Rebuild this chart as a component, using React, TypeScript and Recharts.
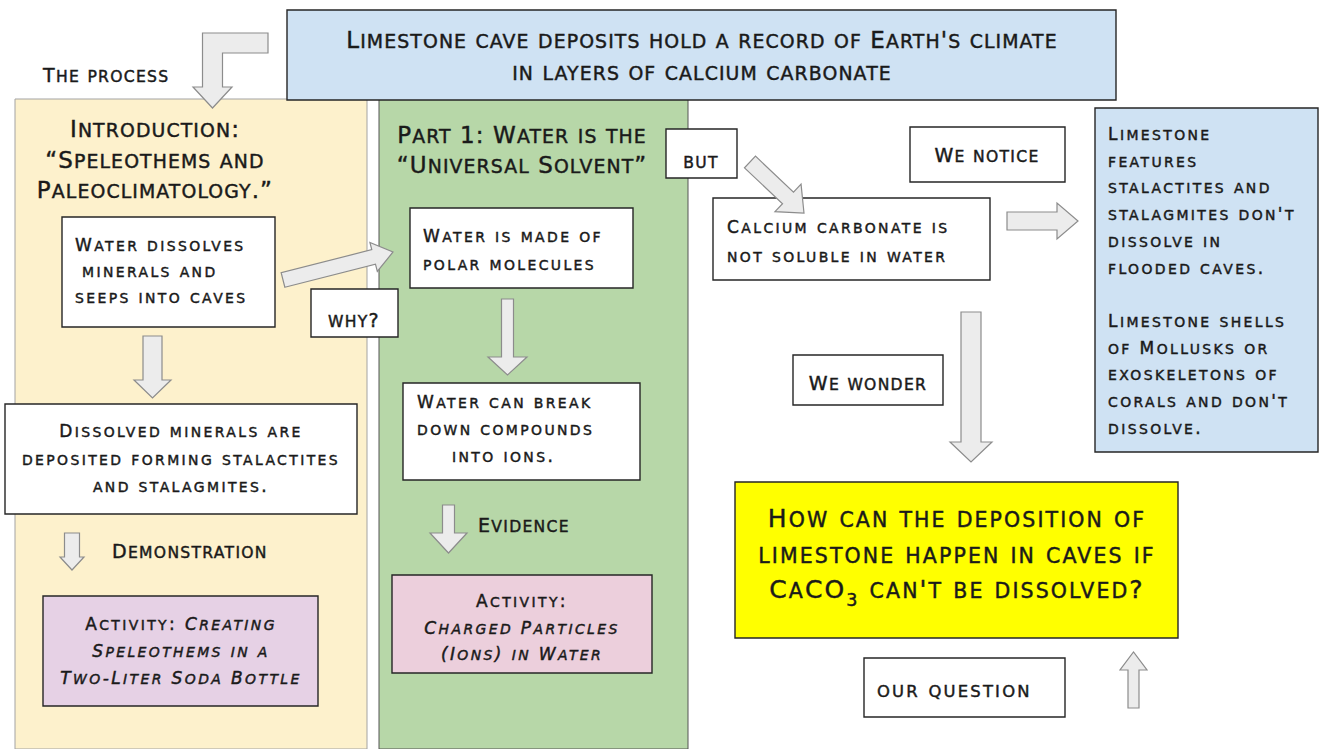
import React from "react";
import { ScatterChart, Scatter, XAxis, YAxis, ReferenceArea } from "recharts";

const CHART_W = 1319;
const CHART_H = 749;
const FONT = "'DejaVu Sans', Verdana, sans-serif";
const SMALL_CAPS = 0.82;

// diagram space = chart data space: x 0..1319 (left to right), y 0..749 (top to bottom)

// ---- texts ----
const headerText = ["Limestone cave deposits hold a record of Earth's climate", "in layers of calcium carbonate"];
const processText = ["The process"];
const introTitle = ["Introduction:", "“Speleothems and", "Paleoclimatology.”"];
const waterText = ["Water dissolves", "minerals and", "seeps into caves"];
const dissolvedText = ["Dissolved minerals are", "deposited forming stalactites", "and stalagmites."];
const demoText = ["Demonstration"];
const activity1Text = ["Activity: *Creating*", "*Speleothems in a*", "*Two-Liter Soda Bottle*"];
const whyText = ["why?"];
const part1Title = ["Part 1: Water is the", "“Universal Solvent”"];
const butText = ["but"];
const polarText = ["Water is made of", "polar molecules"];
const ionsText = ["Water can break", "down compounds", "into ions."];
const evidenceText = ["Evidence"];
const activity2Text = ["Activity:", "*Charged Particles*", "*(Ions) in Water*"];
const noticeText = ["We notice"];
const calciumText = ["Calcium carbonate is", "not soluble in water"];
const featuresText = [
  "Limestone", "features", "stalactites and", "stalagmites don't", "dissolve in", "flooded caves.", "",
  "Limestone shells", "of Mollusks or", "exoskeletons of", "corals and don't", "dissolve.",
];
const wonderText = ["We wonder"];
const questionText = ["How can the deposition of", "limestone happen in caves if", "CaCO_3 can't be dissolved?"];
const ourQuestionText = ["our question"];

// ---- boxes ----
type Box = { x1: number; x2: number; y1: number; y2: number; kind: string };

const panels: Box[] = [
  { x1: 15, x2: 367, y1: 99, y2: 749, kind: "beige" },
  { x1: 379, x2: 688, y1: 99, y2: 749, kind: "green" },
];

const boxes: Box[] = [
  { x1: 287, x2: 1116, y1: 10, y2: 100, kind: "blue" },
  { x1: 62, x2: 275, y1: 217, y2: 327, kind: "white" },
  { x1: 5, x2: 357, y1: 404, y2: 514, kind: "white" },
  { x1: 43, x2: 318, y1: 596, y2: 706, kind: "lavender" },
  { x1: 311, x2: 398, y1: 289, y2: 337, kind: "white" },
  { x1: 410, x2: 633, y1: 208, y2: 288, kind: "white" },
  { x1: 403, x2: 640, y1: 383, y2: 480, kind: "white" },
  { x1: 392, x2: 652, y1: 575, y2: 673, kind: "pink" },
  { x1: 666, x2: 737, y1: 129, y2: 178, kind: "white" },
  { x1: 910, x2: 1065, y1: 127, y2: 182, kind: "white" },
  { x1: 713, x2: 990, y1: 198, y2: 280, kind: "white" },
  { x1: 1095, x2: 1318, y1: 108, y2: 452, kind: "blue" },
  { x1: 793, x2: 943, y1: 355, y2: 405, kind: "white" },
  { x1: 735, x2: 1178, y1: 482, y2: 638, kind: "yellow" },
  { x1: 864, x2: 1065, y1: 658, y2: 717, kind: "white" },
];

// ---- arrows ----
type Arrow = {
  x1: number; x2: number; y1: number; y2: number;
  dir: "down" | "up" | "right" | "ur" | "dr" | "elbow";
  bar: number; head: number; headLen: number;
};

const arrows: Arrow[] = [
  { x1: 193, x2: 268, y1: 33, y2: 108, dir: "elbow", bar: 20, head: 39, headLen: 21 },
  { x1: 134, x2: 171, y1: 336, y2: 398, dir: "down", bar: 19, head: 37, headLen: 18 },
  { x1: 60, x2: 84, y1: 533, y2: 570, dir: "down", bar: 15, head: 24, headLen: 13 },
  { x1: 488, x2: 527, y1: 299, y2: 375, dir: "down", bar: 12, head: 39, headLen: 18 },
  { x1: 430, x2: 467, y1: 505, y2: 553, dir: "down", bar: 12, head: 37, headLen: 20 },
  { x1: 950, x2: 992, y1: 312, y2: 462, dir: "down", bar: 20, head: 42, headLen: 20 },
  { x1: 1007, x2: 1078, y1: 203, y2: 239, dir: "right", bar: 18, head: 36, headLen: 21 },
  { x1: 1120, x2: 1147, y1: 652, y2: 708, dir: "up", bar: 11, head: 27, headLen: 18 },
  { x1: 283, x2: 393, y1: 252, y2: 280, dir: "ur", bar: 15, head: 30, headLen: 20 },
  { x1: 750, x2: 804, y1: 162, y2: 213, dir: "dr", bar: 16, head: 38, headLen: 22 },
];

// ---- styles ----
const fills: Record<string, string> = {
  white: "#ffffff",
  beige: "#fdf1cc",
  green: "#b7d7a8",
  blue: "#cfe2f3",
  lavender: "#e6d1e5",
  pink: "#eccfdc",
  yellow: "#ffff00",
};
const strokes: Record<string, string> = {
  beige: "#a3a3a3",
  green: "#555555",
};

const fonts: Record<string, { size: number; spacing: number }> = {
  large: { size: 23, spacing: 1.1 },
  box: { size: 17, spacing: 2.4 },
  label: { size: 19, spacing: 1.3 },
  labelBig: { size: 20, spacing: 2.2 },
  xl: { size: 25, spacing: 2.1 },
};

type Label = {
  x: number; y: number; lines: string[]; anchor: "start" | "middle";
  font: string; step?: number; indent?: number[];
};

const labels: Label[] = [
  { x: 702, y: 48, lines: headerText, anchor: "middle", font: "large", step: 32 },
  { x: 43, y: 82, lines: processText, anchor: "start", font: "label" },
  { x: 155, y: 137, lines: introTitle, anchor: "middle", font: "large", step: 30.5 },
  { x: 75, y: 251, lines: waterText, anchor: "start", font: "box", step: 26, indent: [0, 7, 0] },
  { x: 181, y: 437, lines: dissolvedText, anchor: "middle", font: "box", step: 27.5 },
  { x: 112, y: 558, lines: demoText, anchor: "start", font: "label" },
  { x: 181, y: 630, lines: activity1Text, anchor: "middle", font: "box", step: 27 },
  { x: 354, y: 327, lines: whyText, anchor: "middle", font: "label" },
  { x: 522, y: 143, lines: part1Title, anchor: "middle", font: "large", step: 30 },
  { x: 701, y: 168, lines: butText, anchor: "middle", font: "label" },
  { x: 423, y: 242, lines: polarText, anchor: "start", font: "box", step: 28 },
  { x: 417, y: 408, lines: ionsText, anchor: "start", font: "box", step: 27, indent: [0, 0, 35] },
  { x: 478, y: 532, lines: evidenceText, anchor: "start", font: "label" },
  { x: 522, y: 607, lines: activity2Text, anchor: "middle", font: "box", step: 26.5 },
  { x: 987, y: 162, lines: noticeText, anchor: "middle", font: "label" },
  { x: 727, y: 233, lines: calciumText, anchor: "start", font: "box", step: 29 },
  { x: 1108, y: 140, lines: featuresText, anchor: "start", font: "box", step: 26.7 },
  { x: 868, y: 390, lines: wonderText, anchor: "middle", font: "label" },
  { x: 957, y: 527, lines: questionText, anchor: "middle", font: "xl", step: 35.5 },
  { x: 877, y: 697, lines: ourQuestionText, anchor: "start", font: "labelBig" },
];

// small caps by hand: lowercase letters become smaller capitals
function renderLine(line: string, size: number) {
  const out: React.ReactNode[] = [];
  let key = 0;
  let lift = 0;
  line.split("*").forEach((part, pi) => {
    const style = pi % 2 === 1 ? "italic" : "normal";
    let i = 0;
    while (i < part.length) {
      if (part[i] === "_") {
        out.push(
          <tspan key={key++} fontSize={size * 0.7} dy={size * 0.3} fontStyle={style}>
            {part[i + 1]}
          </tspan>
        );
        lift = size * 0.3;
        i += 2;
        continue;
      }
      const lower = /[a-z]/.test(part[i]);
      let j = i;
      while (j < part.length && part[j] !== "_" && /[a-z]/.test(part[j]) === lower) j++;
      const chunk = part.slice(i, j);
      out.push(
        <tspan
          key={key++}
          fontSize={lower ? size * SMALL_CAPS : size}
          fontStyle={style}
          dy={lift ? -lift : undefined}
        >
          {lower ? chunk.toUpperCase() : chunk}
        </tspan>
      );
      lift = 0;
      i = j;
    }
  });
  return out;
}

function LabelMark(props: any) {
  const { cx, cy, payload } = props;
  const f = fonts[payload.font];
  return (
    <g>
      {payload.lines.map((line: string, k: number) =>
        line ? (
          <text
            key={k}
            x={cx + (payload.indent ? payload.indent[k] : 0)}
            y={cy + k * (payload.step || 0)}
            textAnchor={payload.anchor}
            fontFamily={FONT}
            fontSize={f.size}
            fill="#1a1a1a"
            stroke="#1a1a1a"
            strokeWidth={0.45}
            style={{ letterSpacing: f.spacing }}
          >
            {renderLine(line, f.size)}
          </text>
        ) : null
      )}
    </g>
  );
}

function arrowPoints(a: Arrow, x: number, y: number, w: number, h: number): number[][] {
  const b = a.bar / 2;
  const hl = a.headLen;
  if (a.dir === "down") {
    const c = x + w / 2;
    return [[c - b, y], [c + b, y], [c + b, y + h - hl], [x + w, y + h - hl], [c, y + h], [x, y + h - hl], [c - b, y + h - hl]];
  }
  if (a.dir === "up") {
    const c = x + w / 2;
    return [[c - b, y + h], [c + b, y + h], [c + b, y + hl], [x + w, y + hl], [c, y], [x, y + hl], [c - b, y + hl]];
  }
  if (a.dir === "right") {
    const c = y + h / 2;
    return [[x, c - b], [x + w - hl, c - b], [x + w - hl, y], [x + w, c], [x + w - hl, y + h], [x + w - hl, c + b], [x, c + b]];
  }
  if (a.dir === "elbow") {
    const c = x + a.head / 2;
    return [
      [x + w, y], [c - b, y], [c - b, y + h - hl], [x, y + h - hl], [c, y + h],
      [x + a.head, y + h - hl], [c + b, y + h - hl], [c + b, y + a.bar], [x + w, y + a.bar],
    ];
  }
  // diagonal: tail at one corner, tip at the opposite one
  const tail = a.dir === "ur" ? [x, y + h] : [x, y];
  const tip = a.dir === "ur" ? [x + w, y] : [x + w, y + h];
  const dx = tip[0] - tail[0];
  const dy = tip[1] - tail[1];
  const len = Math.hypot(dx, dy);
  const ux = dx / len, uy = dy / len;
  const nx = -uy, ny = ux;
  const bx = tip[0] - ux * hl, by = tip[1] - uy * hl;
  const hw = a.head / 2;
  return [
    [tail[0] + nx * b, tail[1] + ny * b], [bx + nx * b, by + ny * b], [bx + nx * hw, by + ny * hw],
    tip, [bx - nx * hw, by - ny * hw], [bx - nx * b, by - ny * b], [tail[0] - nx * b, tail[1] - ny * b],
  ];
}

function makeArrowShape(a: Arrow) {
  return (props: any) => {
    const pts = arrowPoints(a, props.x, props.y, props.width, props.height);
    return (
      <polygon
        points={pts.map((p) => `${p[0]},${p[1]}`).join(" ")}
        fill="#ececec"
        stroke="#8c8c8c"
        strokeWidth={1.2}
        strokeLinejoin="miter"
      />
    );
  };
}

export default function App() {
  return (
    <div style={{ width: CHART_W, height: CHART_H, background: "#ffffff" }}>
      <style>{"body{margin:0;}"}</style>
      <ScatterChart width={CHART_W} height={CHART_H} margin={{ top: 0, right: 0, bottom: 0, left: 0 }}>
        <XAxis type="number" dataKey="x" domain={[0, CHART_W]} hide allowDataOverflow />
        <YAxis type="number" dataKey="y" domain={[0, CHART_H]} reversed hide allowDataOverflow />
        {panels.map((p, i) => (
          <ReferenceArea
            key={`p${i}`}
            x1={p.x1} x2={p.x2} y1={p.y1} y2={p.y2}
            fill={fills[p.kind]} fillOpacity={1}
            stroke={strokes[p.kind]} strokeWidth={1}
            ifOverflow="visible"
          />
        ))}
        {boxes.map((b, i) => (
          <ReferenceArea
            key={`b${i}`}
            x1={b.x1} x2={b.x2} y1={b.y1} y2={b.y2}
            fill={fills[b.kind]} fillOpacity={1}
            stroke="#262626" strokeWidth={1.4}
            ifOverflow="visible"
          />
        ))}
        {arrows.map((a, i) => (
          <ReferenceArea
            key={`a${i}`}
            x1={a.x1} x2={a.x2} y1={a.y1} y2={a.y2}
            ifOverflow="visible"
            shape={makeArrowShape(a)}
          />
        ))}
        <Scatter data={labels} isAnimationActive={false} shape={(props: any) => <LabelMark {...props} />} />
      </ScatterChart>
    </div>
  );
}
